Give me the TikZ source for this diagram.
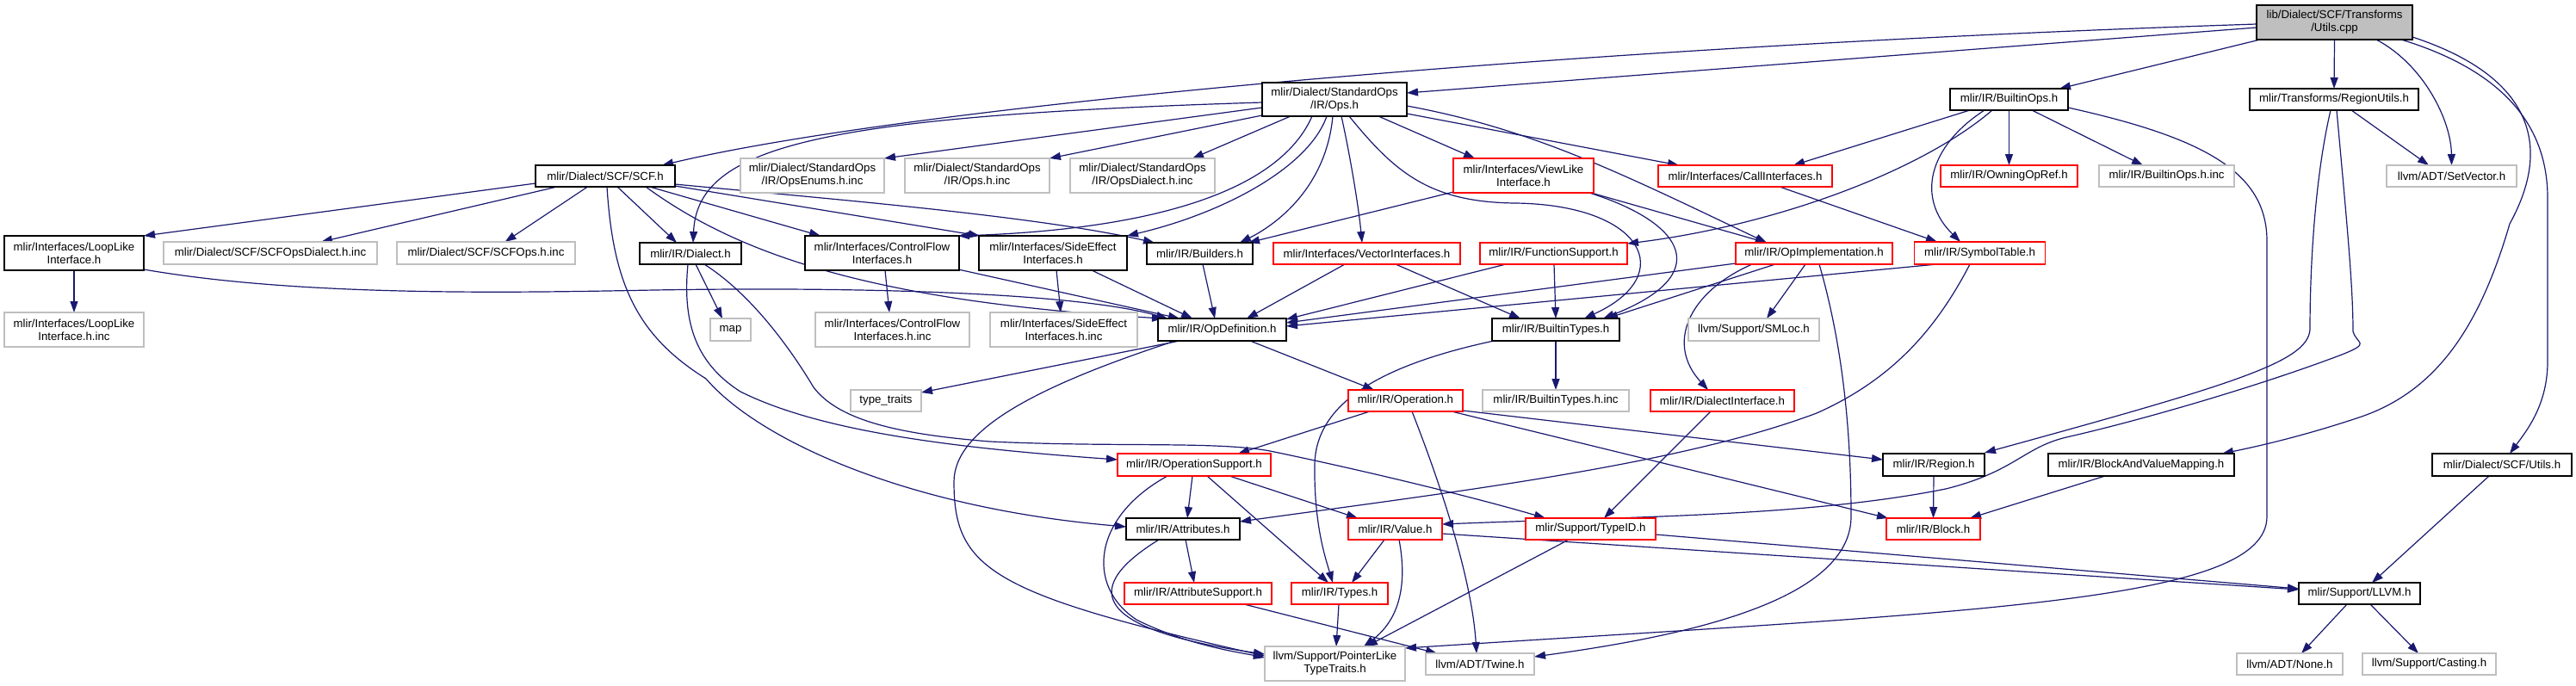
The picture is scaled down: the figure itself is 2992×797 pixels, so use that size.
\documentclass[tikz,border=0pt]{standalone}
\usepackage{fontspec}
\usetikzlibrary{arrows.meta,calc}
\newfontfamily\labfont{Liberation Sans}
\newcommand\lab{\labfont\fontsize{13.3}{15}\selectfont}
\definecolor{mblue}{HTML}{191970}
\definecolor{gseventyfive}{HTML}{BFBFBF}
\pgfdeclarelayer{back}
\pgfdeclarelayer{edges}
\pgfsetlayers{back,edges,main}
\tikzset{
  nb/.style={draw=black, fill=white, line width=1.3bp, inner sep=0pt, font=\lab, align=center},
  ng/.style={nb, draw=gseventyfive},
  nr/.style={nb, draw=red},
  sz/.style 2 args={minimum width=#1bp, minimum height=#2bp},
  e/.style={draw=mblue, line width=1.2bp, -{Triangle[length=13bp,width=9bp]}},
}
\begin{document}
\begin{tikzpicture}[x=1bp,y=-1bp]
\begin{pgfonlayer}{back}
\fill[white] (0,0) rectangle (2992,797);
\end{pgfonlayer}
\useasboundingbox (0,0) rectangle (2992,797);
% row 1-2
\node[nb, fill=gseventyfive, sz={181}{40}] (cpp) at (2711.5,26) {lib/Dialect/SCF/Transforms\\/Utils.cpp};
\node[nb, sz={168}{39}] (ops) at (1550,115.5) {mlir/Dialect/StandardOps\\/IR/Ops.h};
\node[nb, sz={137}{25}] (bops) at (2333.5,115.5) {mlir/IR/BuiltinOps.h};
\node[nb, sz={196}{25}] (rutil) at (2711,115.5) {mlir/Transforms/RegionUtils.h};
% row 3
\node[nb, sz={162}{25}] (scf) at (703,204.5) {mlir/Dialect/SCF/SCF.h};
\node[ng, sz={167}{40}] (enums) at (943.5,204) {mlir/Dialect/StandardOps\\/IR/OpsEnums.h.inc};
\node[ng, sz={168}{40}] (opsinc) at (1135,204) {mlir/Dialect/StandardOps\\/IR/Ops.h.inc};
\node[ng, sz={168}{40}] (opsdia) at (1327,204) {mlir/Dialect/StandardOps\\/IR/OpsDialect.h.inc};
\node[nr, sz={163}{40}] (viewlike) at (1769.5,204) {mlir/Interfaces/ViewLike\\Interface.h};
\node[nr, sz={202}{25}] (call) at (2027,204.5) {mlir/Interfaces/CallInterfaces.h};
\node[nr, sz={159}{25}] (owning) at (2333.5,204.5) {mlir/IR/OwningOpRef.h};
\node[ng, sz={157}{25}] (bopsinc) at (2516.5,204.5) {mlir/IR/BuiltinOps.h.inc};
\node[ng, sz={151}{25}] (setvec) at (2847.5,204.5) {llvm/ADT/SetVector.h};
% row 4
\node[nb, sz={162}{40}] (loop) at (86,294) {mlir/Interfaces/LoopLike\\Interface.h};
\node[ng, sz={248}{26}] (scfdia) at (314,294) {mlir/Dialect/SCF/SCFOpsDialect.h.inc};
\node[ng, sz={207}{26}] (scfops) at (564.5,294) {mlir/Dialect/SCF/SCFOps.h.inc};
\node[nb, sz={118}{25}] (dialect) at (802,294.5) {mlir/IR/Dialect.h};
\node[nb, sz={179}{40}] (cf) at (1024.5,294) {mlir/Interfaces/ControlFlow\\Interfaces.h};
\node[nb, sz={172}{40}] (se) at (1223,294) {mlir/Interfaces/SideEffect\\Interfaces.h};
\node[nb, sz={123}{25}] (builders) at (1393.5,294.5) {mlir/IR/Builders.h};
\node[nr, sz={217}{25}] (vector) at (1587.5,294.5) {mlir/Interfaces/VectorInterfaces.h};
\node[nr, sz={171}{25}] (funcsup) at (1804.5,294.5) {mlir/IR/FunctionSupport.h};
\node[nr, sz={182}{25}] (opimpl) at (2107,294.5) {mlir/IR/OpImplementation.h};
\node[nr, sz={152}{26}] (symtab) at (2299.5,294) {mlir/IR/SymbolTable.h};
% row 5
\node[ng, sz={162}{40}] (loopinc) at (86,383) {mlir/Interfaces/LoopLike\\Interface.h.inc};
\node[ng, sz={47}{26}] (map) at (848.5,383) {map};
\node[ng, sz={179}{40}] (cfinc) at (1036.5,383) {mlir/Interfaces/ControlFlow\\Interfaces.h.inc};
\node[ng, sz={171}{40}] (seinc) at (1235.5,383) {mlir/Interfaces/SideEffect\\Interfaces.h.inc};
\node[nb, sz={149}{26}] (opdef) at (1419.5,383) {mlir/IR/OpDefinition.h};
\node[nb, sz={148}{26}] (btypes) at (1807,383) {mlir/IR/BuiltinTypes.h};
\node[ng, sz={152}{26}] (smloc) at (2037,383) {llvm/Support/SMLoc.h};
% row 6
\node[ng, sz={82}{25}] (ttraits) at (1029,465.5) {type\_traits};
\node[nr, sz={133}{25}] (operation) at (1632.5,465.5) {mlir/IR/Operation.h};
\node[ng, sz={170}{25}] (btypesinc) at (1807,465.5) {mlir/IR/BuiltinTypes.h.inc};
\node[nr, sz={167}{25}] (dialif) at (2000.5,465.5) {mlir/IR/DialectInterface.h};
% row 7
\node[nr, sz={178}{26}] (opsupp) at (1387,540) {mlir/IR/OperationSupport.h};
\node[nb, sz={118}{26}] (region) at (2246,540) {mlir/IR/Region.h};
\node[nb, sz={216}{26}] (bavm) at (2487,540) {mlir/IR/BlockAndValueMapping.h};
\node[nb, sz={162}{26}] (scfutils) at (2906,540) {mlir/Dialect/SCF/Utils.h};
% row 8
\node[nb, sz={132}{25}] (attrs) at (1374,614.5) {mlir/IR/Attributes.h};
\node[nr, sz={109}{25}] (value) at (1620.5,614.5) {mlir/IR/Value.h};
\node[nr, sz={151}{25}] (typeid) at (1847.5,614.5) {mlir/Support/TypeID.h};
\node[nr, sz={109}{25}] (block) at (2245.5,614.5) {mlir/IR/Block.h};
% row 9
\node[nr, sz={171}{25}] (attrsupp) at (1391.5,689.5) {mlir/IR/AttributeSupport.h};
\node[nr, sz={112}{25}] (types) at (1556,689.5) {mlir/IR/Types.h};
\node[nb, sz={141}{25}] (llvm) at (2740.5,689.5) {mlir/Support/LLVM.h};
% row 10
\node[ng, sz={163}{40}] (ptrlike) at (1550.5,771) {llvm/Support/PointerLike\\TypeTraits.h};
\node[ng, sz={126}{25}] (twine) at (1719,771.5) {llvm/ADT/Twine.h};
\node[ng, sz={123}{25}] (none) at (2659.5,771.5) {llvm/ADT/None.h};
\node[ng, sz={155}{25}] (casting) at (2821.5,771.5) {llvm/Support/Casting.h};

\begin{pgfonlayer}{edges}
% from Utils.cpp
\draw[e] ($(cpp)+(-90.5,2)$) .. controls (1800,55) and (1050,125) .. ($(scf)+(66,-12.5)$);
\draw[e] ($(cpp)+(-90.5,6)$) -- ($(ops)+(84,-7.5)$);
\draw[e] ($(cpp)+(-86.5,20)$) -- ($(bops)+(58.5,-12.5)$);
\draw[e] ($(cpp)+(0,20)$) -- ($(rutil)+(0,-12.5)$);
\draw[e] ($(cpp)+(48.5,20)$) .. controls (2815,75) and (2847,140) .. ($(setvec)+(0,-12.5)$);
\draw[e] ($(cpp)+(77.5,20)$) .. controls (2900,80) and (2959,140) .. (2959,230) -- (2959,420) .. controls (2959,470) and (2935,500) .. ($(scfutils)+(9,-13)$);
\draw[e] ($(cpp)+(90.5,17)$) .. controls (2930,85) and (2970,160) .. (2915,260) .. controls (2880,380) and (2830,455) .. (2740,485) .. controls (2680,505) and (2630,517) .. ($(bavm)+(94,-13)$);
% from StandardOps Ops.h
\draw[e] ($(ops)+(-84,3.5)$) .. controls (950,135) and (810,170) .. ($(dialect)+(3,-12.5)$);
\draw[e] ($(ops)+(-84,9.5)$) -- ($(enums)+(83.5,-20)$);
\draw[e] ($(ops)+(-84,18.5)$) -- ($(opsinc)+(84,-20)$);
\draw[e] ($(ops)+(-51,19.5)$) -- ($(opsdia)+(58,-20)$);
\draw[e] ($(ops)+(-26,19.5)$) .. controls (1480,235) and (1300,268) .. ($(cf)+(88.5,-20)$);
\draw[e] ($(ops)+(-9,19.5)$) .. controls (1520,195) and (1420,248) .. ($(se)+(86,-20)$);
\draw[e] ($(ops)+(-2,19.5)$) .. controls (1540,220) and (1480,262) .. ($(builders)+(46.5,-12.5)$);
\draw[e] ($(ops)+(8,19.5)$) .. controls (1568,180) and (1578,240) .. ($(vector)+(-5.5,-12.5)$);
\draw[e] ($(ops)+(17,19.5)$) .. controls (1620,200) and (1660,235) .. (1760,236) .. controls (1910,238) and (1950,320) .. ($(btypes)+(33,-13)$);
\draw[e] ($(ops)+(51,19.5)$) -- ($(viewlike)+(-56.5,-20)$);
\draw[e] ($(ops)+(84,16.5)$) -- ($(call)+(-77,-12.5)$);
\draw[e] ($(ops)+(84,7.5)$) .. controls (1780,150) and (1880,200) .. ($(opimpl)+(-55,-12.5)$);
% from SCF.h
\draw[e] ($(scf)+(-81,8.5)$) -- ($(loop)+(81,-20)$);
\draw[e] ($(scf)+(-56,12.5)$) -- ($(scfdia)+(59,-13)$);
\draw[e] ($(scf)+(-20.5,12.5)$) -- ($(scfops)+(22,-13)$);
\draw[e] ($(scf)+(2,12.5)$) .. controls (712,330) and (740,390) .. (820,440) .. controls (880,510) and (1050,590) .. ($(attrs)+(-66,-2.5)$);
\draw[e] ($(scf)+(14,12.5)$) -- ($(dialect)+(-16,-12.5)$);
\draw[e] ($(scf)+(51.5,12.5)$) -- ($(cf)+(-71.5,-20)$);
\draw[e] ($(scf)+(81,11.5)$) -- ($(se)+(-85,-20)$);
\draw[e] ($(scf)+(81,9.5)$) .. controls (950,230) and (1200,250) .. ($(builders)+(-52.5,-12.5)$);
\draw[e] ($(scf)+(47,12.5)$) .. controls (850,290) and (1000,350) .. ($(opdef)+(-68.5,-13)$);
% LoopLike
\draw[e] ($(loop)+(0,20)$) -- ($(loopinc)+(0,-20)$);
\draw[e] ($(loop)+(81,19)$) .. controls (350,345) and (600,340) .. (760,337) .. controls (1000,333) and (1250,340) .. ($(opdef)+(-63.5,-13)$);
% Dialect.h
\draw[e] ($(dialect)+(6,12.5)$) -- ($(map)+(-9.5,-13)$);
\draw[e] ($(dialect)+(-3,12.5)$) .. controls (793,370) and (805,420) .. (860,455) .. controls (950,500) and (1100,520) .. ($(opsupp)+(-89,-6)$);
\draw[e] ($(dialect)+(16,12.5)$) .. controls (870,340) and (915,400) .. (945,450) .. controls (975,490) and (1050,505) .. (1150,513) .. controls (1300,520) and (1420,512) .. (1480,525) .. controls (1600,550) and (1720,580) .. ($(typeid)+(-52.5,-12.5)$);
% interfaces
\draw[e] ($(cf)+(3.5,20)$) -- ($(cfinc)+(-3.5,-20)$);
\draw[e] ($(cf)+(88.5,19)$) -- ($(opdef)+(-49.5,-13)$);
\draw[e] ($(se)+(4,20)$) -- ($(seinc)+(-3.5,-20)$);
\draw[e] ($(se)+(45,20)$) -- ($(opdef)+(-34.5,-13)$);
\draw[e] ($(builders)+(3.5,12.5)$) -- ($(opdef)+(-8.5,-13)$);
\draw[e] ($(vector)+(-25.5,12.5)$) -- ($(opdef)+(28.5,-13)$);
\draw[e] ($(vector)+(33.5,12.5)$) -- ($(btypes)+(-41,-13)$);
\draw[e] ($(funcsup)+(-55.5,12.5)$) -- ($(opdef)+(74.5,-12)$);
\draw[e] ($(funcsup)+(0.5,12.5)$) -- ($(btypes)+(0,-13)$);
\draw[e] ($(opimpl)+(-91,11.5)$) -- ($(opdef)+(74.5,-8)$);
\draw[e] ($(symtab)+(-49.5,13)$) -- ($(opdef)+(74.5,-4)$);
\draw[e] ($(opimpl)+(-45,12.5)$) -- ($(btypes)+(59,-13)$);
\draw[e] ($(opimpl)+(-10,12.5)$) -- ($(smloc)+(15,-13)$);
\draw[e] ($(opimpl)+(-72,12.5)$) .. controls (1960,340) and (1935,400) .. ($(dialif)+(-16.5,-12.5)$);
\draw[e] ($(opimpl)+(6,12.5)$) .. controls (2140,400) and (2150,500) .. (2150,600) .. controls (2150,700) and (1950,740) .. ($(twine)+(63,-8.5)$);
\draw[e] ($(viewlike)+(76.5,20)$) .. controls (1960,260) and (1990,320) .. ($(btypes)+(55,-13)$);
\draw[e] ($(viewlike)+(78.5,20)$) -- ($(opimpl)+(-55,-12.5)$);
\draw[e] ($(viewlike)+(-81.5,19)$) -- ($(builders)+(56.5,-12.5)$);
\draw[e] ($(call)+(40,12.5)$) -- ($(symtab)+(-49.5,-13)$);
% BuiltinOps.h
\draw[e] ($(bops)+(-45.5,12.5)$) -- ($(call)+(56,-12.5)$);
\draw[e] ($(bops)+(-19.5,12.5)$) .. controls (2230,200) and (2060,262) .. ($(funcsup)+(85.5,-11.5)$);
\draw[e] ($(bops)+(-28.5,12.5)$) .. controls (2240,170) and (2225,230) .. ($(symtab)+(-22.5,-13)$);
\draw[e] ($(bops)+(0,12.5)$) -- ($(owning)+(0,-12.5)$);
\draw[e] ($(bops)+(26.5,12.5)$) -- ($(bopsinc)+(-27.5,-12.5)$);
\draw[e] ($(bops)+(68.5,9.5)$) .. controls (2560,160) and (2633,200) .. (2633,280) -- (2633,600) .. controls (2633,700) and (2300,710) .. ($(ptrlike)+(81.5,-18)$);
\draw[e] ($(symtab)+(-11.5,13)$) .. controls (2250,380) and (2200,440) .. (2110,480) .. controls (1950,540) and (1700,570) .. ($(attrs)+(66,-8.5)$);
% RegionUtils.h
\draw[e] ($(rutil)+(-4,12.5)$) .. controls (2690,200) and (2683,300) .. (2683,383) .. controls (2680,420) and (2600,445) .. ($(region)+(59,-14)$);
\draw[e] ($(rutil)+(3,12.5)$) .. controls (2725,250) and (2733,330) .. (2733,385) .. controls (2737,400) and (2755,398) .. (2720,412) .. controls (2620,450) and (2480,490) .. (2400,508) .. controls (2350,520) and (2340,548) .. (2260,568) .. controls (2100,600) and (1900,600) .. ($(value)+(54.5,-5.5)$);
\draw[e] ($(rutil)+(20,12.5)$) -- ($(setvec)+(-26.5,-12.5)$);
% OpDefinition.h
\draw[e] ($(opdef)+(-49.5,13)$) -- ($(ttraits)+(41,-9.5)$);
\draw[e] ($(opdef)+(-54.5,13)$) .. controls (1200,450) and (1108,500) .. (1108,560) .. controls (1108,660) and (1150,690) .. ($(ptrlike)+(-81.5,-9)$);
\draw[e] ($(opdef)+(32.5,13)$) -- ($(operation)+(-36.5,-12.5)$);
% Operation.h
\draw[e] ($(operation)+(-41.5,12.5)$) -- ($(opsupp)+(51,-13)$);
\draw[e] ($(operation)+(66.5,11.5)$) -- ($(region)+(-59,-6)$);
\draw[e] ($(operation)+(53.5,12.5)$) -- ($(block)+(-52.5,-12.5)$);
\draw[e] ($(operation)+(7.5,12.5)$) .. controls (1680,580) and (1710,680) .. ($(twine)+(-4,-12.5)$);
% BuiltinTypes.h
\draw[e] ($(btypes)+(0,13)$) -- ($(btypesinc)+(0,-12.5)$);
\draw[e] ($(btypes)+(-72,13)$) .. controls (1600,425) and (1528,470) .. (1527,540) .. controls (1526,610) and (1540,650) .. ($(types)+(-8,-12.5)$);
\draw[e] ($(dialif)+(-13.5,12.5)$) -- ($(typeid)+(15.5,-12.5)$);
% OperationSupport.h
\draw[e] ($(opsupp)+(-2,13)$) -- ($(attrs)+(5,-12.5)$);
\draw[e] ($(opsupp)+(-31,13)$) .. controls (1270,600) and (1260,680) .. (1320,720) .. controls (1380,750) and (1440,758) .. ($(ptrlike)+(-81.5,-7)$);
\draw[e] ($(opsupp)+(15,13)$) -- ($(types)+(-13,-12.5)$);
\draw[e] ($(opsupp)+(41,13)$) -- ($(value)+(-43.5,-12.5)$);
% Attributes.h
\draw[e] ($(attrs)+(3,12.5)$) -- ($(attrsupp)+(-4.5,-12.5)$);
\draw[e] ($(attrs)+(-28,12.5)$) .. controls (1260,680) and (1260,730) .. ($(ptrlike)+(-81.5,-11)$);
\draw[e] ($(attrsupp)+(53.5,12.5)$) -- ($(twine)+(-50,-12.5)$);
% Value.h, TypeID.h, Types.h
\draw[e] ($(value)+(-12.5,12.5)$) -- ($(types)+(14,-12.5)$);
\draw[e] ($(value)+(4.5,12.5)$) .. controls (1635,680) and (1625,720) .. ($(ptrlike)+(33.5,-20)$);
\draw[e] ($(value)+(54.5,5.5)$) -- ($(llvm)+(-70.5,-4.5)$);
\draw[e] ($(typeid)+(75.5,6.5)$) -- ($(llvm)+(-70.5,-5.5)$);
\draw[e] ($(typeid)+(-25.5,12.5)$) -- ($(ptrlike)+(36.5,-20)$);
\draw[e] ($(types)+(-1,12.5)$) -- ($(ptrlike)+(1.5,-20)$);
% Region, BAVM, SCF Utils, LLVM
\draw[e] ($(region)+(0,13)$) -- ($(block)+(0,-12.5)$);
\draw[e] ($(bavm)+(-42,13)$) -- ($(block)+(42.5,-12.5)$);
\draw[e] ($(scfutils)+(-15,13)$) -- ($(llvm)+(14.5,-12.5)$);
\draw[e] ($(llvm)+(-14.5,12.5)$) -- ($(none)+(13.5,-12.5)$);
\draw[e] ($(llvm)+(12.5,12.5)$) -- ($(casting)+(-12.5,-12.5)$);
\end{pgfonlayer}
\end{tikzpicture}
\end{document}
